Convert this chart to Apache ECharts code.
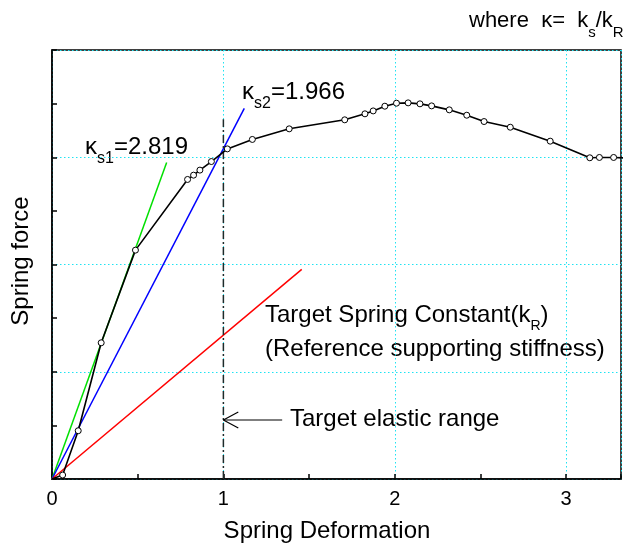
<!DOCTYPE html>
<html>
<head>
<meta charset="utf-8">
<script src="https://cdn.jsdelivr.net/npm/echarts@6/dist/echarts.min.js"></script>
<style>
    html, body { margin: 0; padding: 0; background: #fff; }
    #chart { width: 624px; height: 546px; }
</style>
</head>
<body>
<div id="chart"></div>
<script>
// measured load curve (spring deformation, spring force)
var curveX = [0, 0.062, 0.153, 0.287, 0.487, 0.791, 0.826, 0.863, 0.930, 1.023, 1.169, 1.384, 1.708, 1.826, 1.874, 1.942,
    2.010, 2.078, 2.147, 2.215, 2.318, 2.420, 2.521, 2.674, 2.907, 3.138, 3.194, 3.277, 3.400];
var curveY = [0, 0.037, 0.450, 1.270, 2.134, 2.793, 2.833, 2.880, 2.960, 3.078, 3.166, 3.265, 3.349, 3.405, 3.432, 3.476,
    3.504, 3.507, 3.498, 3.479, 3.442, 3.392, 3.333, 3.280, 3.150, 2.995, 2.998, 2.998, 2.990];

// secant lines
var ks1X = [0, 0.669], ks1Y = [0, 2.952];   // green
var ks2X = [0, 1.122], ks2Y = [0, 3.455];   // blue
var kRX = [0, 1.457], kRY = [0, 1.954];     // red, target spring constant

// target elastic range marker + arrow
var rangeX = [1, 1], rangeY = [0, 3.355];
var arrowX = [1.343, 1.0], arrowY = [0.55, 0.55];
var headX = [1.087, 1.0, 1.087], headY = [0.625, 0.55, 0.475];

var xTicks = [0, 1, 2, 3];

function pairs(xs, ys) {
    return xs.map(function (x, i) { return [x, ys[i]]; });
}

var font = 'Liberation Sans, Arial, sans-serif';
var gridColor = '#1fe3f2';

var chartDom = document.getElementById('chart');
var myChart = echarts.init(chartDom);

var simpleLine = function (name, xs, ys, color, width, type) {
    return {
        name: name,
        type: 'line',
        data: pairs(xs, ys),
        symbol: 'none',
        silent: true,
        lineStyle: { color: color, width: width, type: type || 'solid' },
        z: 3
    };
};

var option = {
    animation: false,
    backgroundColor: '#fff',
    grid: {
        left: 52, top: 50, right: 1, bottom: 67,
        show: true, borderColor: '#000', borderWidth: 1.5, backgroundColor: 'transparent'
    },
    xAxis: [{
        type: 'value', min: 0, max: 3.32, interval: 0.5,
        axisLine: { show: true, lineStyle: { color: '#000', width: 1.5 } },
        axisTick: { show: true, inside: true, length: 5, lineStyle: { color: '#000', width: 1.5 } },
        axisLabel: {
            margin: 10, color: '#000', fontSize: 20, fontFamily: font,
            formatter: function (v) { return xTicks.indexOf(v) >= 0 ? String(v) : ''; }
        },
        splitLine: { show: false }
    }, {
        type: 'value', min: 0, max: 3.32, interval: 1, position: 'top',
        axisLine: { show: false }, axisTick: { show: false }, axisLabel: { show: false },
        splitLine: { show: true, lineStyle: { color: gridColor, width: 1, type: [1.5, 2.5] } }
    }],
    yAxis: [{
        type: 'value', min: 0, max: 4, interval: 0.5,
        axisLine: { show: true, lineStyle: { color: '#000', width: 1.5 } },
        axisTick: { show: true, inside: true, length: 5, lineStyle: { color: '#000', width: 1.5 } },
        axisLabel: { show: false },
        splitLine: { show: false }
    }, {
        type: 'value', min: 0, max: 4, interval: 1, position: 'right',
        axisLine: { show: false }, axisTick: { show: false }, axisLabel: { show: false },
        splitLine: { show: true, lineStyle: { color: gridColor, width: 1, type: [1.5, 2.5] } }
    }],
    series: [
        simpleLine('ks1', ks1X, ks1Y, '#00e000', 1.5),
        simpleLine('ks2', ks2X, ks2Y, '#0000ff', 1.5),
        simpleLine('kR', kRX, kRY, '#ff0000', 1.5),
        simpleLine('range', rangeX, rangeY, '#1e2b2b', 1.5, [8, 3, 2, 3]),
        simpleLine('arrow', arrowX, arrowY, '#000', 1.2),
        simpleLine('arrowHead', headX, headY, '#000', 1.2),
        {
            name: 'curve',
            type: 'line',
            data: pairs(curveX, curveY).map(function (p, i) {
                return i === 0 ? { value: p, symbol: 'none' } : p;
            }),
            symbol: 'circle',
            symbolSize: 6,
            showAllSymbol: true,
            itemStyle: { color: '#fff', borderColor: '#000', borderWidth: 1 },
            lineStyle: { color: '#000', width: 1.6 },
            z: 5
        }
    ],
    graphic: [
        {
            type: 'text', x: 469, y: 21,
            style: {
                text: '{m|where  κ=  k}{s|s}{m|/k}{s|R}',
                align: 'left', verticalAlign: 'middle',
                rich: {
                    m: { fontSize: 22, fontFamily: font, fill: '#000' },
                    s: { fontSize: 15, fontFamily: font, fill: '#000', padding: [24, 0, 0, 0] }
                }
            }
        },
        {
            type: 'text', x: 85, y: 147,
            style: {
                text: '{m|κ}{s|s1}{m|=2.819}',
                align: 'left', verticalAlign: 'middle',
                rich: {
                    m: { fontSize: 24, fontFamily: font, fill: '#000' },
                    s: { fontSize: 16, fontFamily: font, fill: '#000', padding: [24, 0, 0, 0] }
                }
            }
        },
        {
            type: 'text', x: 242, y: 92,
            style: {
                text: '{m|κ}{s|s2}{m|=1.966}',
                align: 'left', verticalAlign: 'middle',
                rich: {
                    m: { fontSize: 24, fontFamily: font, fill: '#000' },
                    s: { fontSize: 16, fontFamily: font, fill: '#000', padding: [24, 0, 0, 0] }
                }
            }
        },
        {
            type: 'text', x: 265, y: 315,
            style: {
                text: '{m|Target Spring Constant(k}{s|R}{m|)}',
                align: 'left', verticalAlign: 'middle',
                rich: {
                    m: { fontSize: 24, fontFamily: font, fill: '#000' },
                    s: { fontSize: 14, fontFamily: font, fill: '#000', padding: [22, 0, 0, 0] }
                }
            }
        },
        {
            type: 'text', x: 265, y: 349,
            style: { text: '(Reference supporting stiffness)', fontSize: 24, fontFamily: font, fill: '#000', align: 'left', verticalAlign: 'middle' }
        },
        {
            type: 'text', x: 290, y: 419,
            style: { text: 'Target elastic range', fontSize: 24, fontFamily: font, fill: '#000', align: 'left', verticalAlign: 'middle' }
        },
        {
            type: 'text', x: 327, y: 531,
            style: { text: 'Spring Deformation', fontSize: 24, fontFamily: font, fill: '#000', align: 'center', verticalAlign: 'middle' }
        },
        {
            type: 'text', x: 21, y: 261, rotation: Math.PI / 2,
            style: { text: 'Spring force', fontSize: 24, fontFamily: font, fill: '#000', align: 'center', verticalAlign: 'middle' }
        }
    ]
};

option && myChart.setOption(option);
</script>
</body>
</html>
